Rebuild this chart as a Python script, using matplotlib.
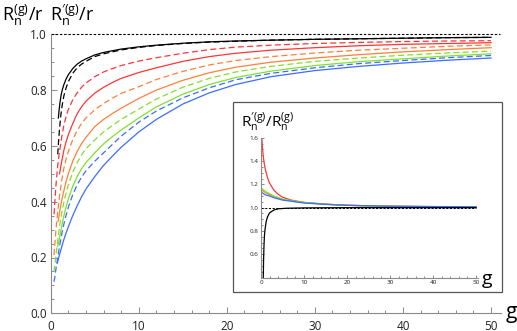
import matplotlib
matplotlib.use("Agg")
import matplotlib.pyplot as plt
from matplotlib.patches import Rectangle
from matplotlib.ticker import MultipleLocator

plt.rcParams['font.family'] = ['Open Sans', 'DejaVu Sans']
plt.rcParams['mathtext.fontset'] = 'custom'
plt.rcParams['mathtext.rm'] = 'Open Sans'
plt.rcParams['mathtext.it'] = 'Open Sans'
plt.rcParams['mathtext.default'] = 'regular'

# ---------------- data ----------------
G_LO = [1, 1.25, 1.5, 1.75, 2, 2.5, 3, 3.5, 4, 5, 6, 7, 8]
G_HI = [10, 12, 15, 18, 21, 25, 30, 35, 40, 45, 50]

black_solid_g = [0.87, 0.95, 1.05, 1.2, 1.35, 1.5, 1.75, 2, 2.5, 3, 3.5, 4, 5, 6, 8] + G_HI
black_solid = [0.70, 0.727, 0.755, 0.785, 0.805, 0.82, 0.84, 0.855, 0.877, 0.893, 0.904, 0.912,
               0.926, 0.935, 0.947,
               0.955, 0.961, 0.968, 0.973, 0.976, 0.979, 0.982, 0.984, 0.986, 0.988, 0.989]
black_dash_g = [0.8, 0.9, 1, 1.15, 1.3, 1.5, 1.75, 2, 2.5, 3, 3.5, 4, 5, 6, 8] + G_HI
black_dash = [0.57, 0.62, 0.66, 0.71, 0.745, 0.78, 0.808, 0.83, 0.86, 0.88, 0.893, 0.903,
              0.92, 0.93, 0.944,
              0.953, 0.96, 0.967, 0.972, 0.975, 0.979, 0.982, 0.984, 0.986, 0.988, 0.989]

red_dash_g = [0.38, 0.5, 0.6, 0.8] + G_LO + G_HI
red_dash = [0.355, 0.415, 0.46, 0.53,
            0.58, 0.632, 0.675, 0.705, 0.73, 0.765, 0.79, 0.81, 0.825, 0.848, 0.865, 0.877, 0.888,
            0.904, 0.916, 0.932, 0.945, 0.954, 0.961, 0.967, 0.971, 0.974, 0.976, 0.977]
red_solid_g = G_LO + G_HI
red_solid = [0.50, 0.545, 0.585, 0.615, 0.64, 0.68, 0.715, 0.74, 0.76, 0.789, 0.81, 0.827, 0.842,
             0.863, 0.88, 0.903, 0.92, 0.932, 0.943, 0.952, 0.959, 0.964, 0.967, 0.97]

orange_dash_g = [0.37, 0.5, 0.6, 0.8] + G_LO + G_HI
orange_dash = [0.209, 0.26, 0.30, 0.365,
               0.42, 0.475, 0.52, 0.553, 0.58, 0.622, 0.655, 0.68, 0.70, 0.729, 0.752, 0.771, 0.788,
               0.812, 0.838, 0.867, 0.89, 0.906, 0.92, 0.933, 0.943, 0.95, 0.957, 0.962]
orange_solid_g = [0.85] + G_LO + G_HI
orange_solid = [0.33,
                0.36, 0.405, 0.44, 0.473, 0.50, 0.545, 0.58, 0.608, 0.63, 0.669, 0.695, 0.716, 0.735,
                0.77, 0.80, 0.835, 0.862, 0.882, 0.90, 0.915, 0.927, 0.937, 0.945, 0.952]

green_dash_g = [0.37, 0.5, 0.6, 0.8] + G_LO + G_HI
green_dash = [0.149, 0.18, 0.21, 0.262,
              0.31, 0.36, 0.40, 0.432, 0.46, 0.505, 0.54, 0.567, 0.59, 0.621, 0.65, 0.673, 0.695,
              0.732, 0.768, 0.81, 0.842, 0.865, 0.885, 0.903, 0.915, 0.925, 0.933, 0.94]
green_solid_g = [0.8] + G_LO + G_HI
green_solid = [0.24,
               0.27, 0.312, 0.35, 0.382, 0.41, 0.455, 0.49, 0.518, 0.54, 0.575, 0.607, 0.633, 0.657,
               0.70, 0.74, 0.785, 0.82, 0.845, 0.868, 0.888, 0.902, 0.912, 0.922, 0.93]

blue_dash_g = [0.37, 0.5, 0.6, 0.8] + G_LO + G_HI
blue_dash = [0.113, 0.135, 0.16, 0.20,
             0.24, 0.283, 0.32, 0.352, 0.38, 0.425, 0.46, 0.488, 0.51, 0.545, 0.575, 0.605, 0.635,
             0.685, 0.725, 0.772, 0.808, 0.837, 0.86, 0.88, 0.895, 0.906, 0.916, 0.924]
blue_solid_g = [0.75] + G_LO + G_HI
blue_solid = [0.18,
              0.21, 0.238, 0.265, 0.288, 0.31, 0.35, 0.385, 0.417, 0.445, 0.49, 0.53, 0.563, 0.595,
              0.65, 0.695, 0.75, 0.79, 0.82, 0.848, 0.87, 0.885, 0.897, 0.907, 0.915]

# inset: ratio R'/R
ratio_red_g = [0.2, 0.35, 0.5, 0.75, 1, 1.5, 2, 3, 4, 5, 7, 10, 15, 20, 30, 40, 50]
ratio_red = [1.59, 1.51, 1.45, 1.38, 1.33, 1.26, 1.21, 1.15, 1.115, 1.09, 1.065, 1.045, 1.03,
             1.02, 1.012, 1.008, 1.005]
ratio_orange_g = [0.2, 1, 2, 3, 5, 7, 10, 15, 20, 30, 50]
ratio_orange = [1.15, 1.13, 1.11, 1.095, 1.072, 1.058, 1.043, 1.029, 1.02, 1.012, 1.006]
ratio_green_g = [0.2, 1, 2, 3, 5, 7, 10, 15, 20, 30, 50]
ratio_green = [1.165, 1.14, 1.12, 1.10, 1.075, 1.06, 1.045, 1.03, 1.02, 1.012, 1.006]
ratio_blue_g = [0.2, 1, 2, 3, 5, 7, 10, 15, 20, 30, 50]
ratio_blue = [1.13, 1.11, 1.10, 1.085, 1.065, 1.055, 1.04, 1.028, 1.02, 1.012, 1.007]
ratio_black_g = [0.53, 0.6, 0.7, 0.8, 0.93, 1.2, 1.5, 2, 3, 4, 6, 10, 20, 50]
ratio_black = [0.4, 0.55, 0.68, 0.76, 0.81, 0.88, 0.92, 0.955, 0.98, 0.99, 0.995, 0.998, 1.0, 1.0]

RED = '#ff3535'
ORANGE = '#ff7f3a'
GREEN = '#80e02c'
BLUE = '#3b6cff'
AXC = '#8a8a8a'

W, H = 517, 331
fig = plt.figure(figsize=(W / 100, H / 100), dpi=100)

def px_axes(x0, y0, x1, y1):
    return [x0 / W, 1 - y1 / H, (x1 - x0) / W, (y1 - y0) / H]

def style_axes(ax, fs, maj, minr):
    for s in ('top', 'right'):
        ax.spines[s].set_visible(False)
    for s in ('left', 'bottom'):
        ax.spines[s].set_color(AXC)
        ax.spines[s].set_linewidth(0.8)
    ax.tick_params(which='both', direction='in', color=AXC, width=0.7, labelsize=fs, labelcolor='#222222')
    ax.tick_params(which='major', length=maj)
    ax.tick_params(which='minor', length=minr)
    ax.patch.set_alpha(0)

# ---------------- main axes ----------------
ax = fig.add_axes(px_axes(50.7, 34.3, 501, 313.3))
ax.set_xlim(0, (501 - 50.7) / 8.806)
ax.set_ylim(0, 1.0)
style_axes(ax, 8.5, 4.0, 2.3)
ax.xaxis.set_major_locator(MultipleLocator(10))
ax.xaxis.set_minor_locator(MultipleLocator(2))
ax.yaxis.set_minor_locator(MultipleLocator(0.05))
ax.set_yticks([0, 0.2, 0.4, 0.6, 0.8, 1.0])
ax.set_yticklabels(['0.0', '0.2', '0.4', '0.6', '0.8', '1.0'])
ax.tick_params(axis='x', pad=4.5)
ax.tick_params(axis='y', pad=3)

lw = 0.9
dash = (4.8, 2.6)
ax.plot([0, 51], [1.0, 1.0], color='black', lw=0.8, dashes=(2.2, 1.6), clip_on=False)
ax.plot(black_solid_g, black_solid, color='black', lw=lw)
ax.plot(black_dash_g, black_dash, color='black', lw=lw, dashes=dash)
ax.plot(red_dash_g, red_dash, color=RED, lw=lw, dashes=dash)
ax.plot(red_solid_g, red_solid, color=RED, lw=lw)
ax.plot(orange_dash_g, orange_dash, color=ORANGE, lw=lw, dashes=dash)
ax.plot(orange_solid_g, orange_solid, color=ORANGE, lw=lw)
ax.plot(green_dash_g, green_dash, color=GREEN, lw=lw, dashes=dash)
ax.plot(green_solid_g, green_solid, color=GREEN, lw=lw)
ax.plot(blue_dash_g, blue_dash, color=BLUE, lw=lw, dashes=dash)
ax.plot(blue_solid_g, blue_solid, color=BLUE, lw=lw)

fig.text(2 / W, 1 - 21 / H, r'$R_n^{(g)}/r$', fontsize=13, ha='left', va='baseline')
fig.text(50 / W, 1 - 21 / H, r"$R_n^{\prime(g)}/r$", fontsize=13, ha='left', va='baseline')
fig.text(511 / W, 1 - 318 / H, 'g', fontsize=15, ha='center', va='baseline')

# ---------------- inset ----------------
fig.patches.append(Rectangle((233 / W, 1 - 292 / H), 269 / W, 190 / H, transform=fig.transFigure,
                             facecolor='white', edgecolor='#555555', lw=0.9, zorder=2))
ix = fig.add_axes(px_axes(261, 137.8, 261 + 4.3 * 50.5, 277.5))
ix.set_zorder(3)
ix.set_xlim(0, 50.5)
ix.set_ylim(0.4, 1.6)
style_axes(ix, 4.5, 2.5, 1.4)
ix.set_xticks([0, 10, 20, 30, 40, 50])
ix.xaxis.set_minor_locator(MultipleLocator(2))
ix.set_yticks([0.6, 0.8, 1.0, 1.2, 1.4, 1.6])
ix.set_yticklabels(['0.6', '0.8', '1.0', '1.2', '1.4', '1.6'])
ix.yaxis.set_minor_locator(MultipleLocator(0.05))
ix.tick_params(axis='x', pad=2)
ix.tick_params(axis='y', pad=2)

ilw = 0.9
ix.plot([0, 50], [1.0, 1.0], color='black', lw=0.7, dashes=(2.2, 1.6))
ix.plot(ratio_orange_g, ratio_orange, color=ORANGE, lw=ilw)
ix.plot(ratio_red_g, ratio_red, color=RED, lw=ilw)
ix.plot(ratio_green_g, ratio_green, color=GREEN, lw=ilw)
ix.plot(ratio_blue_g, ratio_blue, color=BLUE, lw=ilw)
ix.plot(ratio_black_g, ratio_black, color='black', lw=ilw)

fig.text(241 / W, 1 - 127 / H, r"$R_n^{\prime(g)}/R_n^{(g)}$", fontsize=11, ha='left', va='baseline', zorder=4)
fig.text(487 / W, 1 - 284 / H, 'g', fontsize=14, ha='center', va='baseline', zorder=4)

fig.savefig('out.png', dpi=100)
